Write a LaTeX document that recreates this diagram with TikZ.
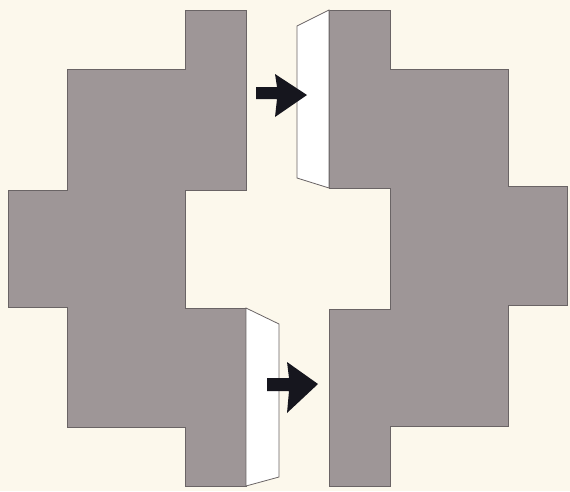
\documentclass[tikz,border=0pt]{standalone}
\begin{document}
\begin{tikzpicture}[x=1pt,y=-1pt,
  blockshape/.style={fill=blockgray,draw=edgegray,line width=1pt,line join=miter},
  faceshape/.style={fill=white,draw=edgegray,line width=0.8pt},
  arrowshape/.style={fill=arrowblack,draw=none}]
\definecolor{paper}{HTML}{FCF8EC}
\definecolor{blockgray}{HTML}{9E9697}
\definecolor{edgegray}{HTML}{6A6465}
\definecolor{arrowblack}{HTML}{16161E}
\fill[paper] (0,0) rectangle (570,491);
\useasboundingbox (0,0) rectangle (570,491);
% left block
\draw[blockshape] (185,10) -- (246,10) -- (246,190) -- (185,190) -- (185,308)
  -- (246,308) -- (246,486) -- (185,486) -- (185,427) -- (67,427) -- (67,307)
  -- (8,307) -- (8,190) -- (67,190) -- (67,69) -- (185,69) -- cycle;
% right block
\draw[blockshape] (329,10) -- (390,10) -- (390,69) -- (508,69) -- (508,186)
  -- (567,186) -- (567,305) -- (508,305) -- (508,426) -- (390,426) -- (390,486)
  -- (329,486) -- (329,309) -- (390,309) -- (390,188) -- (329,188) -- cycle;
% upper white face
\draw[faceshape] (297,26) -- (329,10) -- (329,188) -- (297,178) -- cycle;
% lower white face
\draw[faceshape] (246,308) -- (279,324) -- (279,477) -- (246,486) -- cycle;
% upper arrow
\fill[arrowshape] (256,87) -- (277,87) -- (275,74) -- (307,95) -- (275,117)
  -- (277,99) -- (256,99) -- cycle;
% lower arrow
\fill[arrowshape] (267,378) -- (289,378) -- (287,362) -- (318,384) -- (287,413)
  -- (289,391) -- (267,391) -- cycle;
\end{tikzpicture}
\end{document}
